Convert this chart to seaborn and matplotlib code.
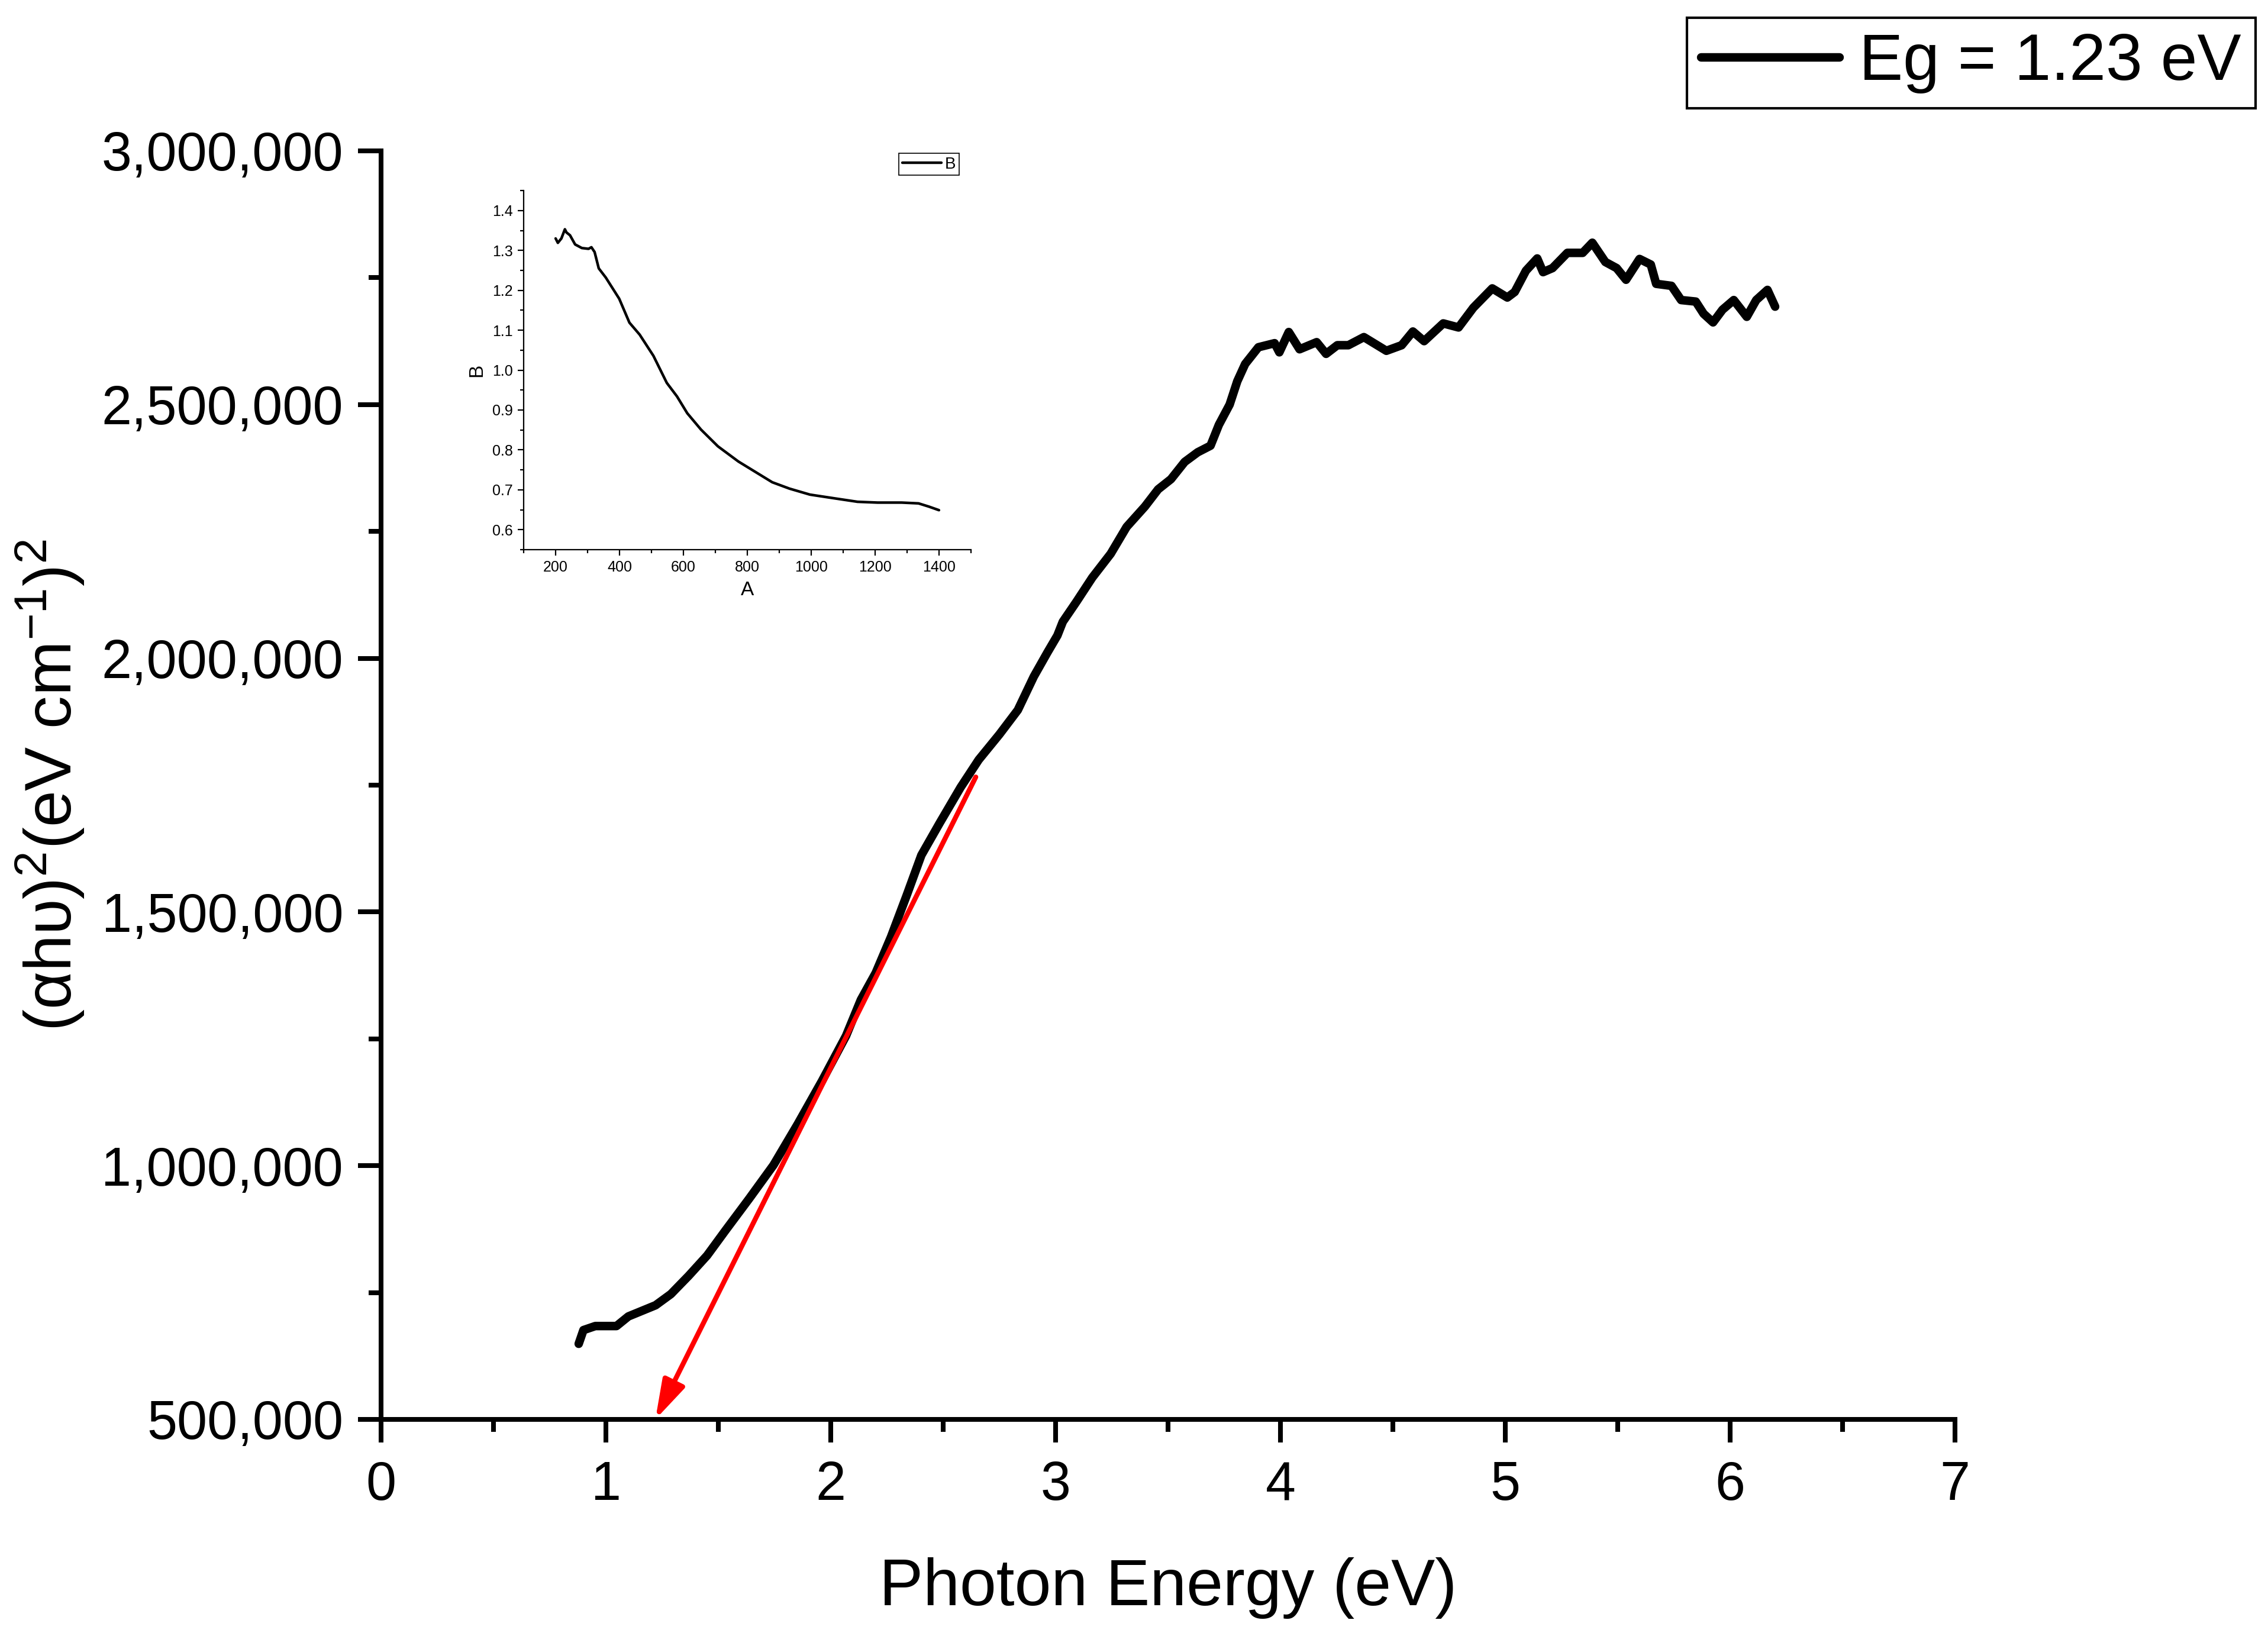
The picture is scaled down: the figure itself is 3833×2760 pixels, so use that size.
import matplotlib
matplotlib.use("Agg")
import matplotlib.pyplot as plt
import matplotlib.ticker as mticker
import pandas as pd
import seaborn as sns

# Tauc plot: (alpha h nu)^2 vs photon energy
energy_ev = [0.879, 0.900, 0.953, 1.047, 1.100, 1.221, 1.289, 1.368, 1.450, 1.531,
             1.637, 1.745, 1.853, 1.961, 2.068, 2.134, 2.200, 2.268, 2.337, 2.403,
             2.484, 2.578, 2.658, 2.750, 2.832, 2.903, 2.963, 3.008, 3.032, 3.092,
             3.163, 3.245, 3.316, 3.397, 3.456, 3.513, 3.574, 3.632, 3.689, 3.726,
             3.774, 3.808, 3.843, 3.902, 3.974, 3.995, 4.037, 4.085, 4.161, 4.203,
             4.253, 4.302, 4.371, 4.471, 4.539, 4.589, 4.639, 4.724, 4.792, 4.858,
             4.942, 5.009, 5.042, 5.092, 5.142, 5.168, 5.210, 5.276, 5.344, 5.387,
             5.445, 5.495, 5.537, 5.597, 5.647, 5.671, 5.739, 5.782, 5.847, 5.882,
             5.924, 5.966, 6.016, 6.074, 6.116, 6.166, 6.200]
tauc_y = [649000, 676000, 684000, 684000, 703000, 725000, 747000, 783000, 823000, 872000,
          935000, 1001000, 1082000, 1167000, 1256000, 1327000, 1380000, 1451000, 1532000, 1612000,
          1675000, 1746000, 1800000, 1850000, 1898000, 1964000, 2011000, 2045000, 2072000, 2111000,
          2159000, 2206000, 2259000, 2299000, 2333000, 2353000, 2387000, 2406000, 2419000, 2460000,
          2500000, 2546000, 2580000, 2613000, 2621000, 2603000, 2643000, 2609000, 2623000, 2600000,
          2617000, 2617000, 2633000, 2606000, 2617000, 2644000, 2625000, 2660000, 2652000, 2691000,
          2729000, 2711000, 2722000, 2764000, 2788000, 2761000, 2769000, 2799000, 2799000, 2819000,
          2781000, 2769000, 2746000, 2787000, 2776000, 2738000, 2734000, 2706000, 2703000, 2679000,
          2662000, 2687000, 2706000, 2673000, 2706000, 2726000, 2693000]

# linear fit extrapolated to the x axis
fit_start = (2.645, 1766000)
fit_end = (1.22, 500000)
legend_label = "Eg = 1.23 eV"

# inset: absorbance vs wavelength
inset_a = [200, 207, 218, 229, 234, 245, 261, 282, 303, 312, 322, 335, 357, 399, 431,
           463, 506, 548, 580, 612, 655, 708, 772, 825, 878, 932, 996, 1070, 1145, 1208,
           1283, 1336, 1368, 1400]
inset_b = [1.330, 1.319, 1.330, 1.353, 1.345, 1.338, 1.315, 1.306, 1.304, 1.308, 1.296,
           1.255, 1.232, 1.179, 1.119, 1.089, 1.036, 0.968, 0.934, 0.892, 0.851, 0.809,
           0.771, 0.745, 0.719, 0.703, 0.688, 0.679, 0.670, 0.668, 0.668, 0.666, 0.658, 0.649]

sns.set_style("ticks")
plt.rcParams["font.family"] = ["Liberation Sans", "DejaVu Sans"]
plt.rcParams["mathtext.fontset"] = "custom"
plt.rcParams["mathtext.rm"] = "Liberation Sans"
plt.rcParams["mathtext.it"] = "Liberation Sans"
for key in ["text.color", "axes.labelcolor", "xtick.color", "ytick.color", "axes.edgecolor"]:
    plt.rcParams[key] = "black"

fig = plt.figure(figsize=(19.165, 13.8), dpi=200)
ax = fig.add_axes([0.16802, 0.13080, 0.69397, 0.77681])

main_df = pd.DataFrame({"E": energy_ev, "T": tauc_y})
sns.lineplot(data=main_df, x="E", y="T", ax=ax, color="black", linewidth=5.2,
             sort=False, estimator=None, label=legend_label)
ax.get_legend().remove()

ax.annotate("", xy=fit_end, xytext=fit_start,
            arrowprops=dict(arrowstyle="-|>,head_length=1.0,head_width=0.3",
                            color="red", lw=3.0, mutation_scale=20,
                            shrinkA=0, shrinkB=0))

ax.set_xlim(0, 7)
ax.set_ylim(500000, 3000000)
ax.xaxis.set_major_locator(mticker.MultipleLocator(1))
ax.xaxis.set_minor_locator(mticker.MultipleLocator(0.5))
ax.yaxis.set_major_locator(mticker.MultipleLocator(500000))
ax.yaxis.set_minor_locator(mticker.MultipleLocator(250000))
ax.yaxis.set_major_formatter(mticker.StrMethodFormatter("{x:,.0f}"))
for s in ["top", "right"]:
    ax.spines[s].set_visible(False)
for s in ["left", "bottom"]:
    ax.spines[s].set_linewidth(2.9)
ax.tick_params(which="major", direction="out", length=14, width=2.9, labelsize=33)
ax.tick_params(which="minor", direction="out", length=7.5, width=2.9)
ax.tick_params(axis="x", which="major", pad=11)
ax.tick_params(axis="y", which="major", pad=9)

ax.set_xlabel("Photon Energy (eV)", fontsize=40, labelpad=28)
ax.set_ylabel(r"(αhυ)$^{2}$(eV cm$^{-1}$)$^{2}$", fontsize=40, labelpad=9)

fig.legend(loc="upper right", bbox_to_anchor=(3812 / 3833, 1 - 30 / 2760),
           fontsize=40, frameon=True, fancybox=False, edgecolor="black",
           framealpha=1, borderpad=0.22, handlelength=2.1, handletextpad=0.3,
           borderaxespad=0).get_frame().set_linewidth(1.5)

# inset
ins = fig.add_axes([0.2309, 0.6634, 0.1972, 0.2199])
inset_df = pd.DataFrame({"A": inset_a, "B": inset_b})
sns.lineplot(data=inset_df, x="A", y="B", ax=ins, color="black", linewidth=1.6,
             sort=False, estimator=None, label="B")
ins.set_xlim(100, 1500)
ins.set_ylim(0.55, 1.45)
ins.xaxis.set_major_locator(mticker.MultipleLocator(200))
ins.xaxis.set_minor_locator(mticker.MultipleLocator(100))
ins.yaxis.set_major_locator(mticker.MultipleLocator(0.1))
ins.yaxis.set_minor_locator(mticker.MultipleLocator(0.05))
ins.xaxis.set_major_formatter(mticker.FuncFormatter(lambda v, p: f"{v:.0f}" if 200 <= v <= 1400 else ""))
ins.yaxis.set_major_formatter(mticker.FuncFormatter(lambda v, p: f"{v:.1f}" if 0.59 <= v <= 1.41 else ""))
for s in ["top", "right"]:
    ins.spines[s].set_visible(False)
for s in ["left", "bottom"]:
    ins.spines[s].set_linewidth(0.8)
ins.tick_params(which="major", direction="out", length=3.5, width=0.8, labelsize=9, pad=3)
ins.tick_params(which="minor", direction="out", length=2, width=0.8)
ins.set_xlabel("A", fontsize=12, labelpad=4)
ins.set_ylabel("B", fontsize=12, labelpad=4)
ins.legend(loc="upper right", bbox_to_anchor=(1621 / 3833, 1 - 259 / 2760),
           bbox_transform=fig.transFigure, fontsize=10, frameon=True, fancybox=False,
           edgecolor="black", framealpha=1, borderpad=0.2, handlelength=2.4,
           handletextpad=0.2, borderaxespad=0).get_frame().set_linewidth(0.6)

fig.savefig("out.png", dpi=200, facecolor="white")
